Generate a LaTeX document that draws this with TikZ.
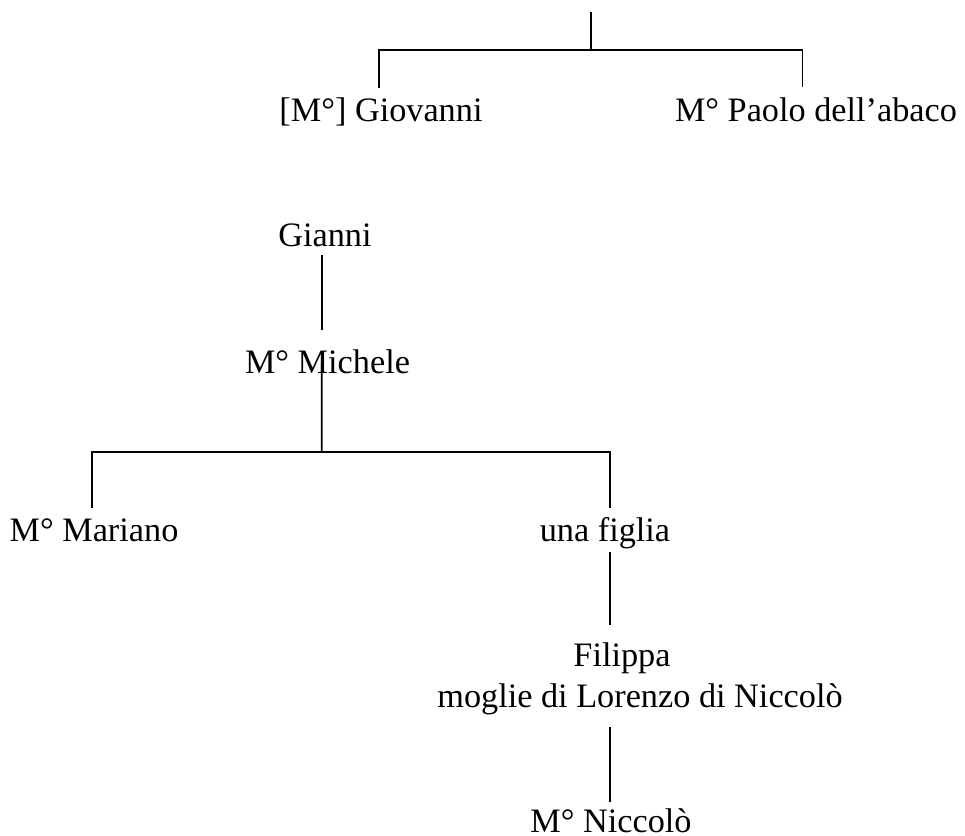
\documentclass[tikz,border=0pt]{standalone}
\usepackage{fontspec}
\setmainfont{Liberation Serif}
\usetikzlibrary{calc}

\begin{document}
\begin{tikzpicture}[
    x=0.02cm, y=-0.02cm,
    % Stili
    person/.style={
        inner sep=0pt, anchor=base,
        text height=13.3pt, text depth=4.3pt,
        font=\fontsize{19.5}{23.5}\selectfont
    },
    link/.style={line width=1pt}
]
\useasboundingbox (0,0) rectangle (965,836);

% Ramo superiore
\node[person] (giovanni) at (381,121.5) {[M°] Giovanni};
\node[person] (paolo) at (816,121) {M° Paolo dell’abaco};

\coordinate (root) at (591,12);
\coordinate (fork1) at (591,50);
\draw[link] (root) -- (fork1);
\draw[link] ($(giovanni.north)+(-2,-10)$) |- (fork1) -| ($(paolo.north)+(-13.5,-10)$);

% Gianni e M° Michele
\node[person] (gianni) at (325,246.7) {Gianni};
\node[person] (michele) at (327.5,373) {M° Michele};

\draw[link] ($(gianni.south)+(-3.3,0.7)$) -- ($(michele.north)+(-5.8,-19.6)$);

% Figli di M° Michele
\node[person] (mariano) at (94,541) {M° Mariano};
\node[person] (figlia) at (605,541) {una figlia};

\coordinate (fork2) at (321.7,452);
\draw[link] ($(michele.south)+(-5.8,-18.6)$) -- (fork2);
\draw[link] ($(mariano.north)+(-2,-9.6)$) |- (fork2) -| ($(figlia.north)+(5,-9.6)$);

% Discendenza della figlia
\node[person] (filippa) at (622,666) {Filippa};
\node[person] (moglie) at (640,707) {moglie di Lorenzo di Niccolò};
\node[person, text depth=0pt] (niccolo) at (611,832.5) {M° Niccolò};

\draw[link] ($(figlia.south)+(5,3.4)$) -- ($(filippa.north)+(-12,-17.6)$);
\draw[link] ($(moglie.south)+(-30,12.4)$) -- ($(niccolo.north)+(-1,-6.4)$);

\end{tikzpicture}
\end{document}
